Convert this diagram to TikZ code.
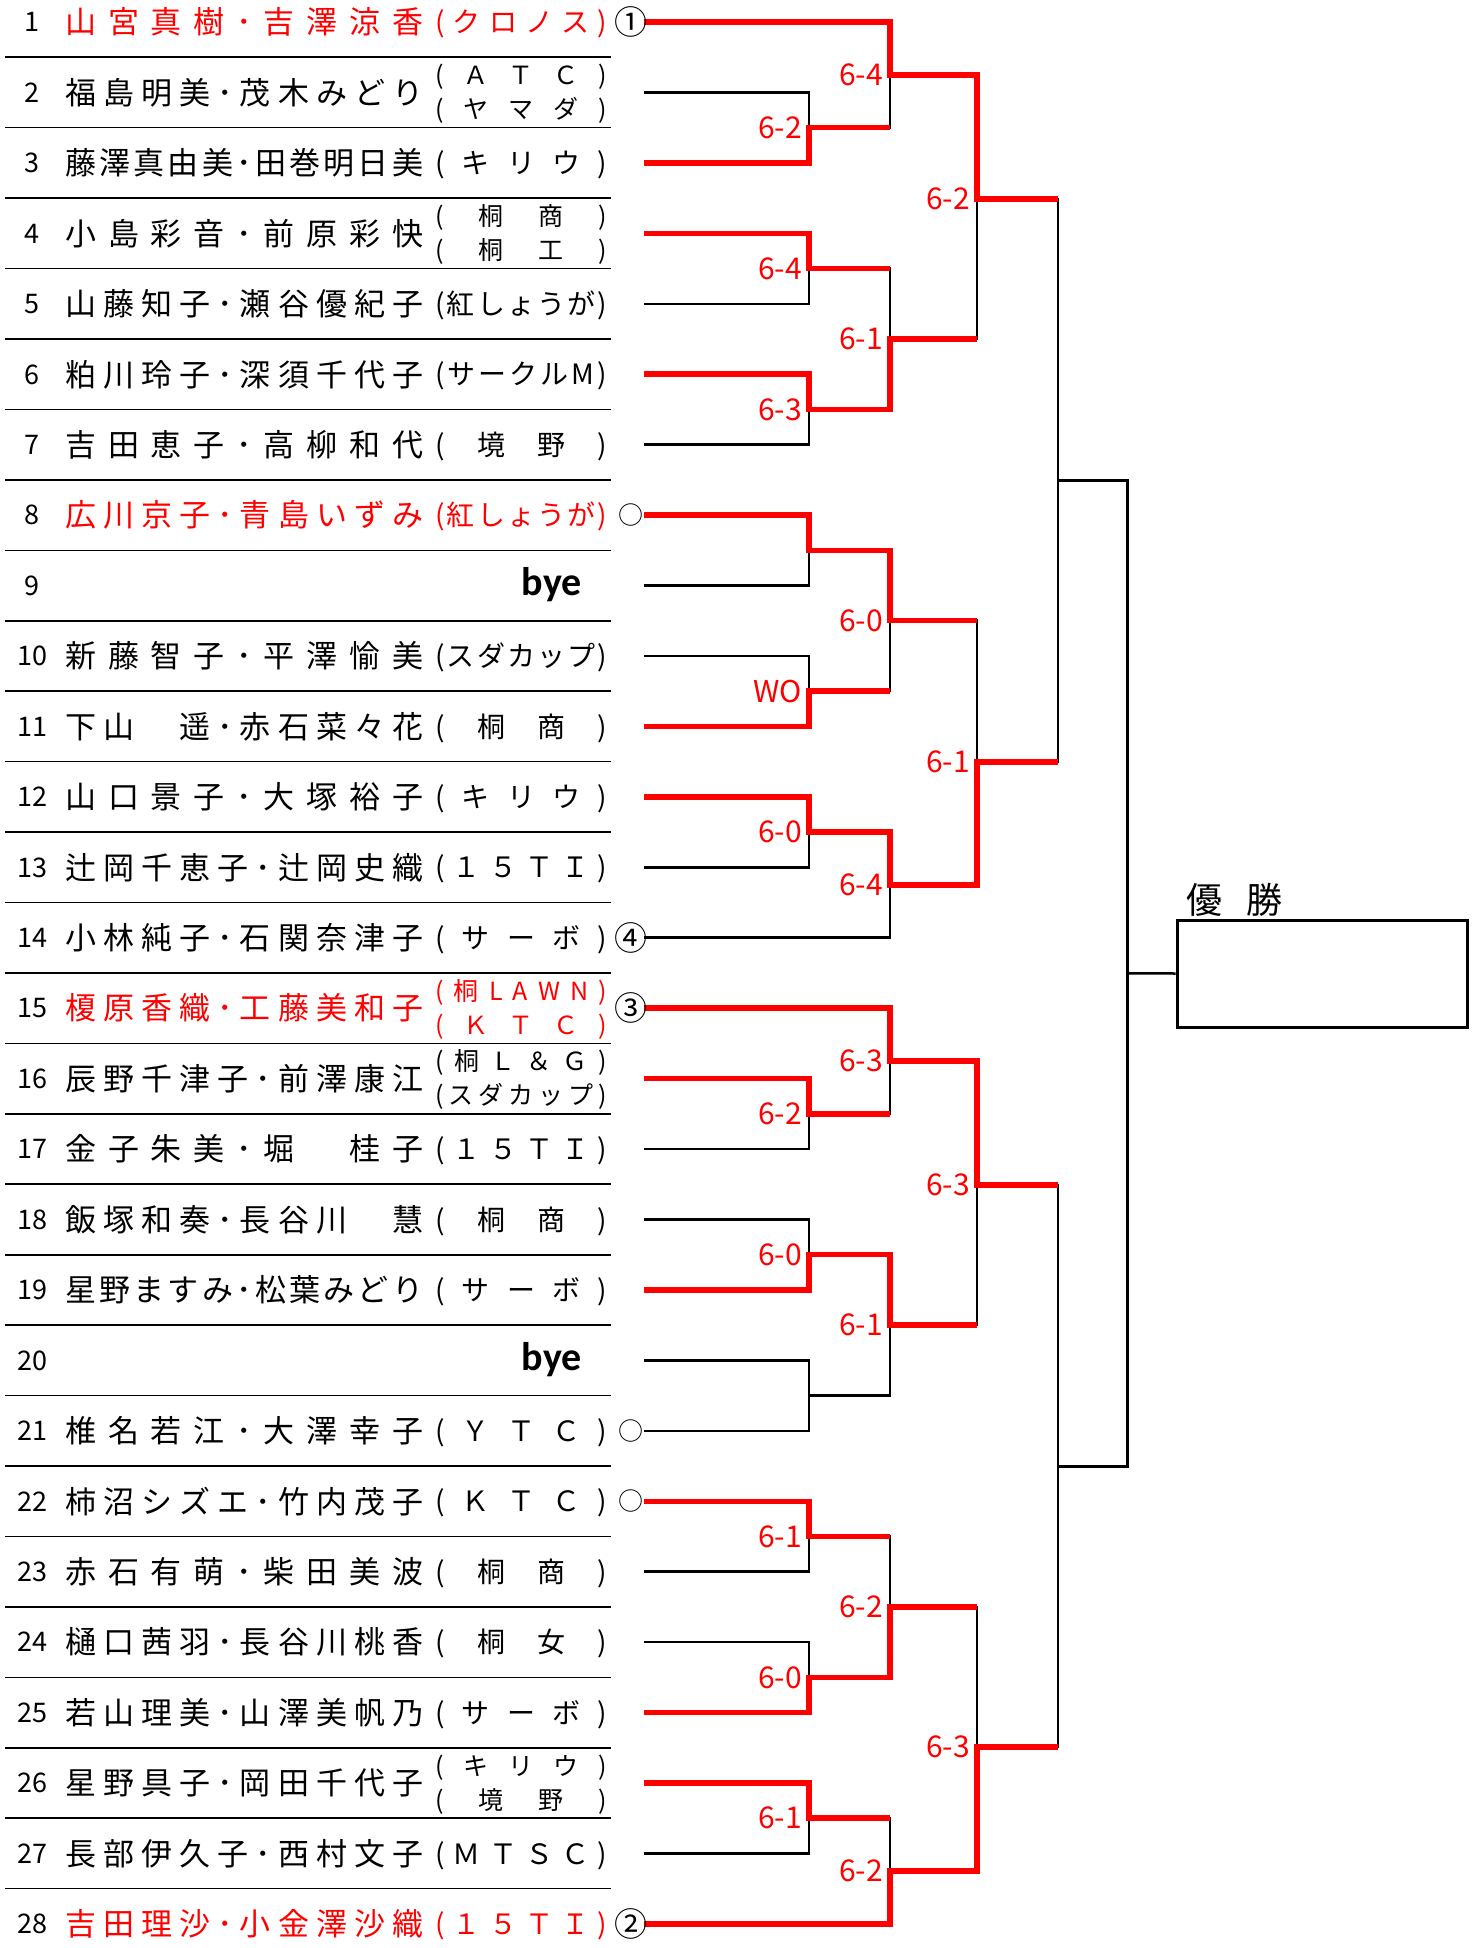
\documentclass[tikz,border=0pt]{standalone}
\usepackage{fontspec}
\newfontfamily\jp{Noto Sans CJK JP}
\newfontfamily\byefont{Carlito}
\definecolor{bred}{RGB}{255,0,0}
\makeatletter
\newcommand\spreadbox[2]{\makebox[#1][s]{\let\sp@sep\relax\@tfor\sp@ch:=#2\do{\sp@sep\sp@ch\let\sp@sep\hfill}}}
\makeatother
\tikzset{
  bk/.style={line width=2.5pt, draw=black},
  bkf/.style={line width=3pt, draw=black},
  rd/.style={line width=5.5pt, draw=bred},
  sepline/.style={line width=1.6pt, draw=black},
  numst/.style={anchor=base, inner sep=0pt, font=\jp\fontsize{27pt}{32pt}\selectfont},
  namest/.style={anchor=base west, inner sep=0pt, font=\jp\fontsize{31pt}{36pt}\selectfont},
  clubst/.style={anchor=base west, inner sep=0pt, font=\jp\fontsize{28pt}{32pt}\selectfont},
  clubtwost/.style={anchor=base west, inner sep=0pt, font=\jp\fontsize{25pt}{28pt}\selectfont},
  markst/.style={anchor=base, inner sep=0pt, font=\jp\fontsize{33pt}{38pt}\selectfont},
  circst/.style={anchor=base, inner sep=0pt, font=\jp\fontsize{25pt}{30pt}\selectfont},
  byest/.style={anchor=base east, inner sep=0pt, font=\byefont\bfseries\fontsize{40pt}{44pt}\selectfont},
  scorest/.style={anchor=east, inner sep=0pt, text=bred, font=\jp\fontsize{30pt}{34pt}\selectfont},
  boxst/.style={draw=black, line width=3pt, minimum width=290pt, minimum height=107pt, inner sep=0pt},
  titlest/.style={anchor=south west, inner sep=0pt, font=\jp\fontsize{36pt}{40pt}\selectfont}
}
\newcommand\Num[1]{\pgfmathsetmacro\yy{22+(#1-1)*70.44+9.8}\node[numst] (num#1) at (32,\yy) {#1};}
\newcommand\Name[3]{\pgfmathsetmacro\yy{22+(#1-1)*70.44+11.8}\node[namest, text=#2] (name#1) at (65,\yy) {\spreadbox{358pt}{#3}};}
\newcommand\Club[3]{\pgfmathsetmacro\yy{22+(#1-1)*70.44+10.6}\node[clubst, text=#2] (club#1) at (435,\yy) {\spreadbox{172pt}{#3}};}
\newcommand\ClubTwo[4]{%
  \pgfmathsetmacro\yya{22+(#1-1)*70.44-17+9.3}%
  \pgfmathsetmacro\yyb{22+(#1-1)*70.44+17+9.3}%
  \node[clubtwost, text=#2] (cluba#1) at (435,\yya) {\spreadbox{172pt}{#3}};
  \node[clubtwost, text=#2] (clubb#1) at (435,\yyb) {\spreadbox{172pt}{#4}};}
\newcommand\Mark[2]{\pgfmathsetmacro\yy{22+(#1-1)*70.44+12.5}\node[markst] (mark#1) at (631,\yy) {#2};}
\newcommand\MarkO[1]{\pgfmathsetmacro\yy{22+(#1-1)*70.44+9.5}\node[circst] (mark#1) at (631,\yy) {○};}
\newcommand\Bye[1]{\pgfmathsetmacro\yy{22+(#1-1)*70.44+10}\node[byest] (bye#1) at (582,\yy) {bye};}
\newcommand\Score[2]{\node[scorest] (sc-#1) at ([xshift=-7pt]#1) {#2};}
\begin{document}
\begin{tikzpicture}[x=1pt, y=-1pt]
\fill[white] (0,0) rectangle (1479,1948);
\useasboundingbox (0,0) rectangle (1479,1948);
% separators
\foreach \i in {1,...,27} \draw[sepline] (5,{22+(\i-0.5)*70.44}) -- (611,{22+(\i-0.5)*70.44});
% entry points
\foreach \i in {1,...,28} \coordinate (r\i) at (644,{22+(\i-1)*70.44});
% round 1 outputs
\coordinate (m23) at (809,127.66);
\coordinate (m45) at (809,268.54);
\coordinate (m67) at (809,409.42);
\coordinate (m89) at (809,550.30);
\coordinate (m1011) at (809,691.18);
\coordinate (m1213) at (809,832.06);
\coordinate (m1617) at (809,1113.82);
\coordinate (m1819) at (809,1254.70);
\coordinate (m2021) at (809,1395.58);
\coordinate (m2223) at (809,1536.46);
\coordinate (m2425) at (809,1677.34);
\coordinate (m2627) at (809,1818.22);
% round 2 outputs
\coordinate (a1) at (890,74.83);
\coordinate (a2) at (890,338.98);
\coordinate (a3) at (890,620.74);
\coordinate (a4) at (890,884.89);
\coordinate (a5) at (890,1060.99);
\coordinate (a6) at (890,1325.14);
\coordinate (a7) at (890,1606.90);
\coordinate (a8) at (890,1871.05);
% round 3 outputs
\coordinate (q1) at (977,199);
\coordinate (q2) at (977,762);
\coordinate (q3) at (977,1185);
\coordinate (q4) at (977,1747);
% semifinal outputs
\coordinate (s1) at (1058,480.5);
\coordinate (s2) at (1058,1466);
% final
\coordinate (f) at (1127,973.25);
% black bracket
\foreach \a/\b/\m in {2/3/m23,4/5/m45,6/7/m67,8/9/m89,10/11/m1011,12/13/m1213,16/17/m1617,18/19/m1819,20/21/m2021,22/23/m2223,24/25/m2425,26/27/m2627}
  \draw[bk] (r\a) -| (\m) |- (r\b);
\draw[bk] (r1) -| (a1) |- (m23);
\draw[bk] (m45) -| (a2) |- (m67);
\draw[bk] (m89) -| (a3) |- (m1011);
\draw[bk] (m1213) -| (a4) |- (r14);
\draw[bk] (r15) -| (a5) |- (m1617);
\draw[bk] (m1819) -| (a6) |- (m2021);
\draw[bk] (m2223) -| (a7) |- (m2425);
\draw[bk] (m2627) -| (a8) |- (r28);
\draw[bk] (a1) -| (q1) |- (a2);
\draw[bk] (a3) -| (q2) |- (a4);
\draw[bk] (a5) -| (q3) |- (a6);
\draw[bk] (a7) -| (q4) |- (a8);
\draw[bk] (q1) -| (s1) |- (q2);
\draw[bk] (q3) -| (s2) |- (q4);
\draw[bkf] (s1) -| (f) |- (s2);
\node[boxst] (winbox) at (1322,973.5) {};
\draw[bk] (f) -- (winbox.west);
\node[titlest] (title) at (1186,917) {優\hspace{24pt}勝};
% red winner paths
\draw[rd] (r1) -| (a1) -| (q1) -- (q1 -| s1);
\draw[rd] (r3) -| (m23) -- (m23 -| a1);
\draw[rd] (r4) -| (m45) -- (m45 -| a2);
\draw[rd] (r6) -| (m67) -| (a2) -- (a2 -| q1);
\draw[rd] (r8) -| (m89) -| (a3) -- (a3 -| q2);
\draw[rd] (r11) -| (m1011) -- (m1011 -| a3);
\draw[rd] (r12) -| (m1213) -| (a4) -| (q2) -- (q2 -| s1);
\draw[rd] (r15) -| (a5) -| (q3) -- (q3 -| s2);
\draw[rd] (r16) -| (m1617) -- (m1617 -| a5);
\draw[rd] (r19) -| (m1819) -| (a6) -- (a6 -| q3);
\draw[rd] (r22) -| (m2223) -- (m2223 -| a7);
\draw[rd] (r25) -| (m2425) -| (a7) -- (a7 -| q4);
\draw[rd] (r26) -| (m2627) -- (m2627 -| a8);
\draw[rd] (r28) -| (a8) -| (q4) -- (q4 -| s2);
% scores
\Score{m23}{6-2}\Score{m45}{6-4}\Score{m67}{6-3}\Score{m1011}{WO}\Score{m1213}{6-0}
\Score{m1617}{6-2}\Score{m1819}{6-0}\Score{m2223}{6-1}\Score{m2425}{6-0}\Score{m2627}{6-1}
\Score{a1}{6-4}\Score{a2}{6-1}\Score{a3}{6-0}\Score{a4}{6-4}
\Score{a5}{6-3}\Score{a6}{6-1}\Score{a7}{6-2}\Score{a8}{6-2}
\Score{q1}{6-2}\Score{q2}{6-1}\Score{q3}{6-3}\Score{q4}{6-3}
% entries
\Num{1}\Name{1}{bred}{山宮真樹･吉澤涼香}\Club{1}{bred}{(クロノス)}\Mark{1}{①}
\Num{2}\Name{2}{black}{福島明美･茂木みどり}\ClubTwo{2}{black}{(ＡＴＣ)}{(ヤマダ)}
\Num{3}\Name{3}{black}{藤澤真由美･田巻明日美}\Club{3}{black}{(キリウ)}
\Num{4}\Name{4}{black}{小島彩音･前原彩快}\ClubTwo{4}{black}{(桐商)}{(桐工)}
\Num{5}\Name{5}{black}{山藤知子･瀬谷優紀子}\Club{5}{black}{(紅しょうが)}
\Num{6}\Name{6}{black}{粕川玲子･深須千代子}\Club{6}{black}{(サークルM)}
\Num{7}\Name{7}{black}{吉田恵子･高柳和代}\Club{7}{black}{(境野)}
\Num{8}\Name{8}{bred}{広川京子･青島いずみ}\Club{8}{bred}{(紅しょうが)}\MarkO{8}
\Num{9}\Bye{9}
\Num{10}\Name{10}{black}{新藤智子･平澤愉美}\Club{10}{black}{(スダカップ)}
\Num{11}\Name{11}{black}{下山　遥･赤石菜々花}\Club{11}{black}{(桐商)}
\Num{12}\Name{12}{black}{山口景子･大塚裕子}\Club{12}{black}{(キリウ)}
\Num{13}\Name{13}{black}{辻岡千恵子･辻岡史織}\Club{13}{black}{(１５ＴＩ)}
\Num{14}\Name{14}{black}{小林純子･石関奈津子}\Club{14}{black}{(サーボ)}\Mark{14}{④}
\Num{15}\Name{15}{bred}{榎原香織･工藤美和子}\ClubTwo{15}{bred}{(桐LAWN)}{(ＫＴＣ)}\Mark{15}{③}
\Num{16}\Name{16}{black}{辰野千津子･前澤康江}\ClubTwo{16}{black}{(桐Ｌ＆Ｇ)}{(スダカップ)}
\Num{17}\Name{17}{black}{金子朱美･堀　桂子}\Club{17}{black}{(１５ＴＩ)}
\Num{18}\Name{18}{black}{飯塚和奏･長谷川　慧}\Club{18}{black}{(桐商)}
\Num{19}\Name{19}{black}{星野ますみ･松葉みどり}\Club{19}{black}{(サーボ)}
\Num{20}\Bye{20}
\Num{21}\Name{21}{black}{椎名若江･大澤幸子}\Club{21}{black}{(ＹＴＣ)}\MarkO{21}
\Num{22}\Name{22}{black}{柿沼シズエ･竹内茂子}\Club{22}{black}{(ＫＴＣ)}\MarkO{22}
\Num{23}\Name{23}{black}{赤石有萌･柴田美波}\Club{23}{black}{(桐商)}
\Num{24}\Name{24}{black}{樋口茜羽･長谷川桃香}\Club{24}{black}{(桐女)}
\Num{25}\Name{25}{black}{若山理美･山澤美帆乃}\Club{25}{black}{(サーボ)}
\Num{26}\Name{26}{black}{星野具子･岡田千代子}\ClubTwo{26}{black}{(キリウ)}{(境野)}
\Num{27}\Name{27}{black}{長部伊久子･西村文子}\Club{27}{black}{(ＭＴＳＣ)}
\Num{28}\Name{28}{bred}{吉田理沙･小金澤沙織}\Club{28}{bred}{(１５ＴＩ)}\Mark{28}{②}
\end{tikzpicture}
\end{document}
